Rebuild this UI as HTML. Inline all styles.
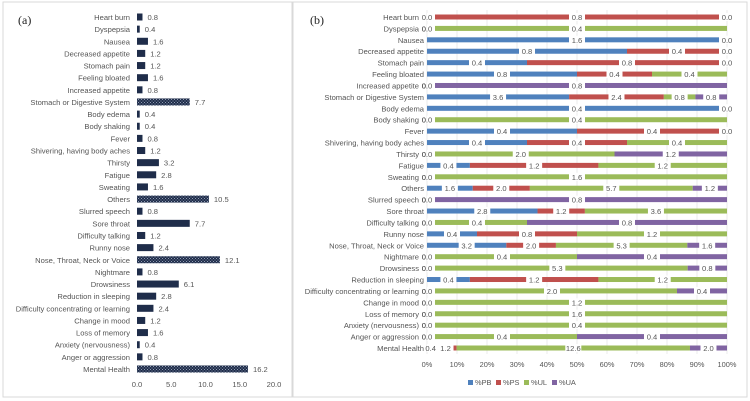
<!DOCTYPE html>
<html><head><meta charset="utf-8">
<style>
html,body{margin:0;padding:0;background:#fff;}
svg{display:block;font-family:"Liberation Sans",sans-serif;}
</style></head>
<body>
<svg id="chart" width="750" height="401" viewBox="0 0 750 401" xmlns="http://www.w3.org/2000/svg">
<defs>
<pattern id="dots" width="3" height="3" patternUnits="userSpaceOnUse">
<rect width="3" height="3" fill="#1f2d4a"/>
<rect x="0" y="0" width="1" height="1" fill="#8f9bb3"/>
<rect x="1.5" y="1.5" width="1" height="1" fill="#8f9bb3"/>
</pattern>
</defs>
<rect x="3" y="2" width="289" height="395" fill="#fff" stroke="#d9d9d9"/>
<rect x="293" y="2" width="454" height="395" fill="#fff" stroke="#d9d9d9"/>
<text x="18" y="24" font-family="Liberation Serif,serif" font-size="12" fill="#222">(a)</text>
<text x="310" y="24" font-family="Liberation Serif,serif" font-size="12" fill="#222">(b)</text>
<g id="ga"></g>
<g id="gb"></g>
</svg>
<script>
const categories = ["Heart burn","Dyspepsia","Nausea","Decreased appetite","Stomach pain","Feeling bloated","Increased appetite","Stomach or Digestive System","Body edema","Body shaking","Fever","Shivering, having body aches","Thirsty","Fatigue","Sweating","Others","Slurred speech","Sore throat","Difficulty talking","Runny nose","Nose, Throat, Neck or Voice","Nightmare","Drowsiness","Reduction in sleeping","Difficulty concentrating or learning","Change in mood","Loss of memory","Anxiety (nervousness)","Anger or aggression","Mental Health"];
const totals = [0.8,0.4,1.6,1.2,1.2,1.6,0.8,7.7,0.4,0.4,0.8,1.2,3.2,2.8,1.6,10.5,0.8,7.7,1.2,2.4,12.1,0.8,6.1,2.8,2.4,1.2,1.6,0.4,0.8,16.2];
const groupRows = ["Stomach or Digestive System","Others","Nose, Throat, Neck or Voice","Mental Health"];
const xTicksA = [0,5,10,15,20];
const pb = [0,0,1.6,0.8,0.4,0.8,0,3.6,0.4,0,0.4,0.4,0,0.4,0,1.6,0,2.8,0,0.4,3.2,0,0,0.4,0,0,0,0,0,0.4];
const ps = [0.8,0,0,0.4,0.8,0.4,0,2.4,0,0,0.4,0.4,0,1.2,0,2.0,0,1.2,0,0.8,2.0,0,0,1.2,0,0,0,0,0,1.2];
const ul = [0,0.4,0,0,0,0.4,0,0.8,0,0.4,0,0.4,2.0,1.2,1.6,5.7,0,3.6,0.4,1.2,5.3,0.4,5.3,1.2,2.0,1.2,1.6,0.4,0.4,12.6];
const ua = [0,0,0,0,0,0,0.8,0.8,0,0,0,0,1.2,0,0,1.2,0.8,0,0.8,0,1.6,0.4,0.8,0,0.4,0,0,0,0.4,2.0];
const seriesNames = ["%PB","%PS","%UL","%UA"];
const seriesColors = ["#4f81bd","#c0504d","#9bbb59","#8064a2"];
const xTicksB = [0,10,20,30,40,50,60,70,80,90,100];

const NS="http://www.w3.org/2000/svg";
function mk(p,tag,at,txt){const e=document.createElementNS(NS,tag);for(const k in at)e.setAttribute(k,at[k]);if(txt!==undefined)e.textContent=txt;p.appendChild(e);return e;}
const n=categories.length;
// panel A
const ga=document.getElementById('ga');
const ax=v=>137+v*6.85;
const ay=i=>17+i*(352/(n-1));
categories.forEach((c,i)=>{
  const t=mk(ga,'text',{x:130,y:ay(i)+3,'text-anchor':'end','font-size':'7.6',fill:'#555'},c);
  
  
  const grp=groupRows.includes(c);
  const r=mk(ga,'rect',{x:ax(0),y:ay(i)-3.5,width:ax(totals[i])-ax(0),height:7,fill:grp?'url(#dots)':'#1f2d4a'});
  
  
  const v=mk(ga,'text',{x:ax(totals[i])+5,y:ay(i)+3,'font-size':'7.6',fill:'#555'},totals[i].toFixed(1));
  
  
});
xTicksA.forEach(t=>{
  const e=mk(ga,'text',{x:ax(t),y:387,'text-anchor':'middle','font-size':'7.6',fill:'#555'},t.toFixed(1));
  
  
});
// panel B
const gb=document.getElementById('gb');
const bx=p=>427+p*3;
const by=i=>17+i*(331/(n-1));
xTicksB.forEach(t=>{
  const g=mk(gb,'line',{x1:bx(t),x2:bx(t),y1:10,y2:354,stroke:'#e3e3e3','stroke-width':0.7});
  
  
  const e=mk(gb,'text',{x:bx(t),y:367,'text-anchor':'middle','font-size':'7.4',fill:'#555'},t+'%');
  
  
});
const series=[pb,ps,ul,ua];
categories.forEach((c,i)=>{
  const tot=series.reduce((s,a)=>s+a[i],0);
  let cum=0;
  const labels=[];
  series.forEach((a,k)=>{
    const w=a[i]/tot*100;
    if(w>0){
      const r=mk(gb,'rect',{x:bx(cum),y:by(i)-2.5,width:bx(cum+w)-bx(cum),height:5,fill:seriesColors[k]});
      
      
    }
    if(k<3||a[i]>0) labels.push([a[i]>0?cum+w/2:cum, a[i]]);
    cum+=w;
  });
  labels.forEach(([p,v])=>{
    const lx=bx(p);
    const bg=mk(gb,'rect',{x:Math.max(lx-8,427),y:by(i)-4,width:Math.min(16,lx+8-427),height:8,fill:'#fff'});
    
    
    const e=mk(gb,'text',{x:lx,y:by(i)+3,'text-anchor':'middle','font-size':'7.6',fill:'#555'},v.toFixed(1));
    
    
  });
  const t=mk(gb,'text',{x:labels.some(l=>l[0]===0)?419:424,y:by(i)+3,'text-anchor':'end','font-size':'7.6',fill:'#555'},c);
  
  
});
seriesNames.forEach((s,k)=>{
  const x=468+k*28;
  const r=mk(gb,'rect',{x:x,y:380,width:5,height:5,fill:seriesColors[k]});
  
  
  const e=mk(gb,'text',{x:x+7,y:385,'font-size':'7.4',fill:'#555'},s);
  
  
});
</script>
</body></html>
